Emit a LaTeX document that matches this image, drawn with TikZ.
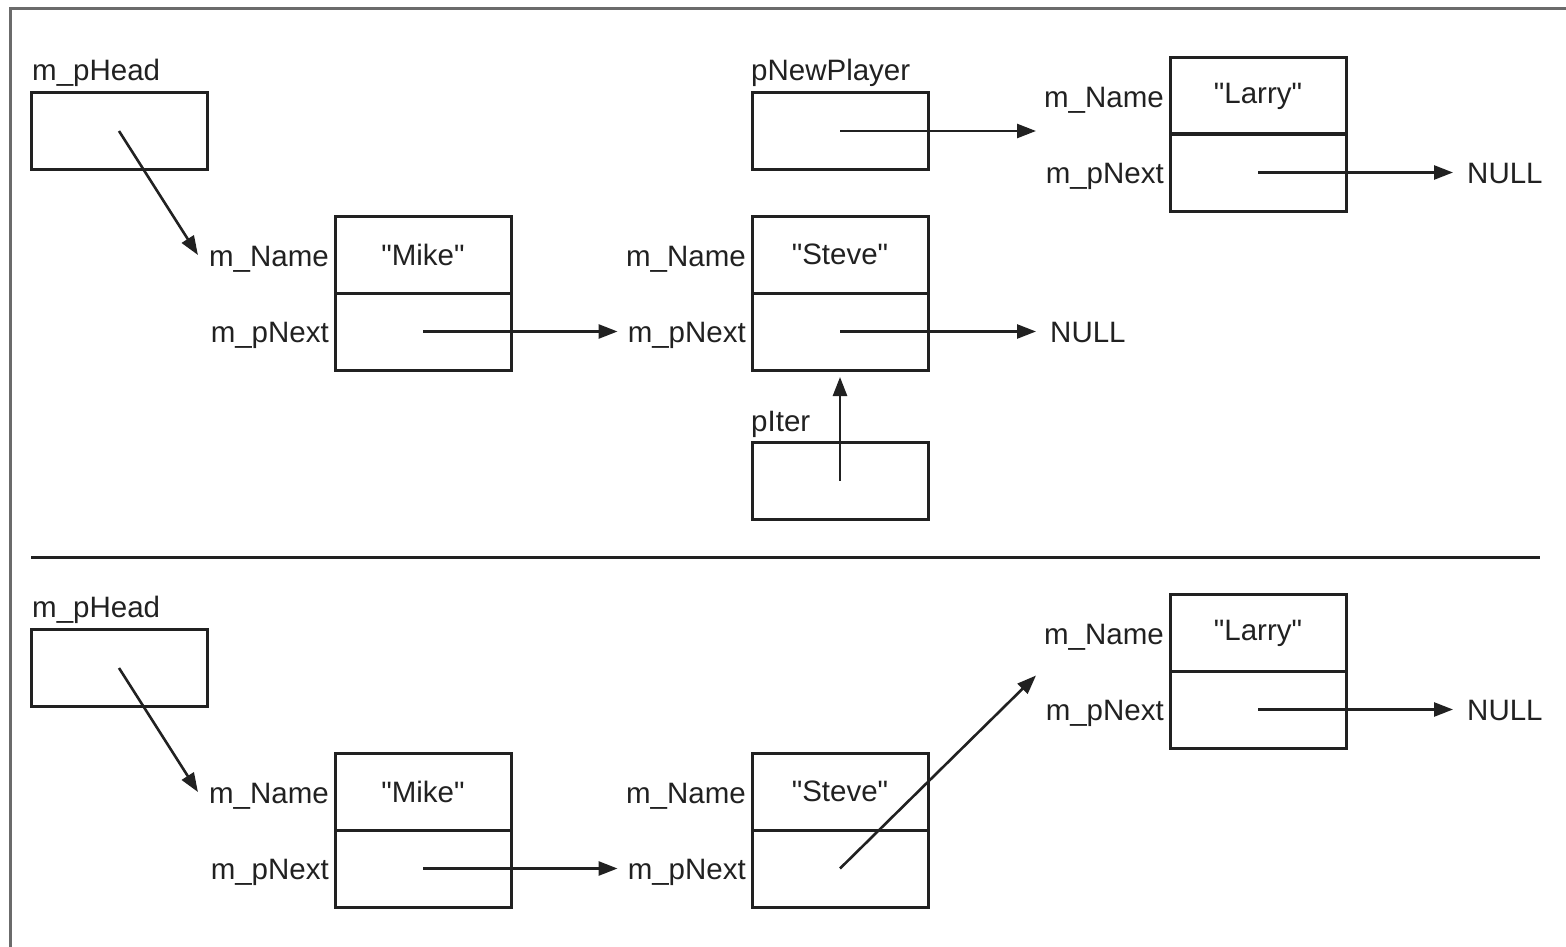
\documentclass[tikz,border=0pt]{standalone}
\usepackage{fontspec}
\setmainfont[Ligatures=TeXOff]{Liberation Sans}
\usetikzlibrary{arrows.meta,calc}
\definecolor{ink}{gray}{0.13}
\definecolor{framegray}{gray}{0.42}
\tikzset{
  field/.style={draw=ink, line width=3pt, minimum width=176pt, minimum height=77pt,
    inner sep=0pt, outer sep=0pt, text=ink, font=\fontsize{29.5}{34}\selectfont},
  lbl/.style={inner sep=0pt, text height=21pt, text depth=0pt, text=ink,
    font=\fontsize{29.5}{34}\selectfont},
  ptr/.style={draw=ink, line width=2.6pt, -{Triangle[length=19pt,width=14pt]}},
}
\begin{document}
\begin{tikzpicture}[x=1pt,y=-1pt]
\useasboundingbox (0,0) rectangle (1566,947);
% frame and separator
\draw[framegray, line width=3pt] (1566,9) -- (10,9) -- (10,947);
\draw[ink, line width=3pt] (31,557) -- (1540,557);

% ---------------- top panel ----------------
\node[field] (head1) at (119,131) {};
\node[lbl, anchor=west] (headL1) at (32,70) {m\_pHead};

\node[field] (mikeN1) at (423,254.5) {"Mike"};
\node[field] (mikeP1) at (423,331.5) {};
\node[lbl, anchor=east] (mikeNL1) at (329,256) {m\_Name};
\node[lbl, anchor=east] (mikePL1) at (329,331.5) {m\_pNext};

\node[field] (steveN1) at (840,254.5) {"Steve"};
\node[field] (steveP1) at (840,331.5) {};
\node[lbl, anchor=east] (steveNL1) at (746,256) {m\_Name};
\node[lbl, anchor=east] (stevePL1) at (746,331.5) {m\_pNext};
\node[lbl, anchor=west] (null1) at (1050,331.5) {NULL};

\node[field] (iter1) at (840,480.5) {};
\node[lbl, anchor=west] (iterL1) at (751,421) {pIter};

\node[field] (newp1) at (840,131) {};
\node[lbl, anchor=west] (newpL1) at (751,70) {pNewPlayer};

\node[field] (larryN1) at (1258,96) {"Larry"};
\node[field] (larryP1) at (1258,172.5) {};
\node[lbl, anchor=east] (larryNL1) at (1164,97) {m\_Name};
\node[lbl, anchor=east] (larryPL1) at (1164,172.5) {m\_pNext};
\node[lbl, anchor=west] (null2) at (1467,172.5) {NULL};

\draw[ptr] (head1.center) -- ($(mikeNL1.west)+(-11,-1)$);
\draw[ptr] (mikeP1.center) -- ($(stevePL1.west)+(-10,0)$);
\draw[ptr] (steveP1.center) -- ($(null1.west)+(-14,0)$);
\draw[ptr] (iter1.center) -- ($(steveP1.south)+(0,7)$);
\draw[ptr] (newp1.center) -- ($(larryN1.south west)+(-134,-3.5)$);
\draw[ptr] (larryP1.center) -- ($(null2.west)+(-14,0)$);

% ---------------- bottom panel ----------------
\node[field] (head2) at (119,668) {};
\node[lbl, anchor=west] (headL2) at (32,607) {m\_pHead};

\node[field] (mikeN2) at (423,791.5) {"Mike"};
\node[field] (mikeP2) at (423,868.5) {};
\node[lbl, anchor=east] (mikeNL2) at (329,793) {m\_Name};
\node[lbl, anchor=east] (mikePL2) at (329,868.5) {m\_pNext};

\node[field] (steveN2) at (840,791.5) {"Steve"};
\node[field] (steveP2) at (840,868.5) {};
\node[lbl, anchor=east] (steveNL2) at (746,793) {m\_Name};
\node[lbl, anchor=east] (stevePL2) at (746,868.5) {m\_pNext};

\node[field] (larryN2) at (1258,633) {"Larry"};
\node[field] (larryP2) at (1258,709.5) {};
\node[lbl, anchor=east] (larryNL2) at (1164,634) {m\_Name};
\node[lbl, anchor=east] (larryPL2) at (1164,709.5) {m\_pNext};
\node[lbl, anchor=west] (null3) at (1467,709.5) {NULL};

\draw[ptr] (head2.center) -- ($(mikeNL2.west)+(-11,-1)$);
\draw[ptr] (mikeP2.center) -- ($(stevePL2.west)+(-10,0)$);
\draw[ptr] (steveP2.center) -- ($(larryN2.south west)+(-134,4)$);
\draw[ptr] (larryP2.center) -- ($(null3.west)+(-14,0)$);
\end{tikzpicture}
\end{document}
